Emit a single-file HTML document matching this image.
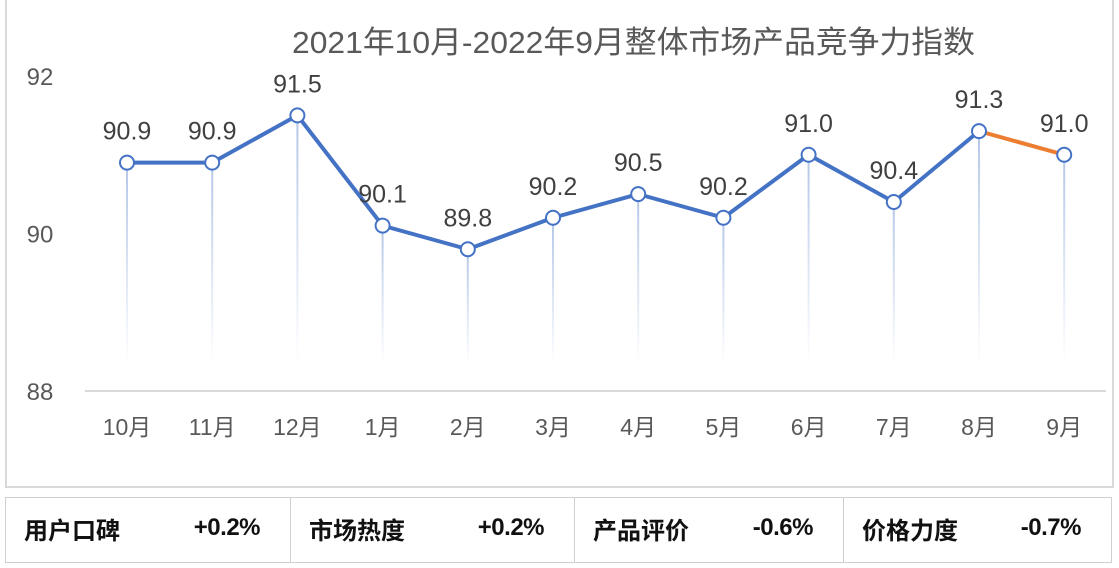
<!DOCTYPE html>
<html><head><meta charset="utf-8"><style>
body{margin:0;width:1119px;height:568px;background:#fff;overflow:hidden;font-family:"Liberation Sans","Noto Sans CJK SC",sans-serif;}
#chart{position:absolute;left:5px;top:0;width:1105px;height:486px;border:2px solid #d9d9d9;border-top:none;}
#tbl{position:absolute;left:5px;top:497px;width:1105px;height:64px;border:1px solid #cfcfcf;display:flex;}
.cell{flex:none;height:64px;border-right:1px solid #cfcfcf;display:flex;align-items:center;justify-content:space-between;padding:0 30px 4px 18px;box-sizing:border-box;font-size:24px;font-weight:bold;color:#111;}
.cell span:last-child{letter-spacing:-0.5px}
.cell:last-child{border-right:none}
</style></head><body>
<div id="chart"></div>
<svg id="svg" width="1119" height="490" style="position:absolute;left:0;top:0">
<defs><linearGradient id="dg" x1="0" y1="0" x2="0" y2="1"><stop offset="0" stop-color="#b4c7e7"/><stop offset="1" stop-color="#b4c7e7" stop-opacity="0"/></linearGradient></defs>
<text x="292" y="53" textLength="683" lengthAdjust="spacingAndGlyphs" font-size="31" fill="#595959">2021年10月-2022年9月整体市场产品竞争力指数</text>
</svg>
<div id="tbl">
<div class="cell" style="width:285px"><span>用户口碑</span><span>+0.2%</span></div>
<div class="cell" style="width:284px"><span>市场热度</span><span>+0.2%</span></div>
<div class="cell" style="width:269px"><span>产品评价</span><span>-0.6%</span></div>
<div class="cell" style="width:267px"><span>价格力度</span><span>-0.7%</span></div>
</div>
<script>
const categories=["10月","11月","12月","1月","2月","3月","4月","5月","6月","7月","8月","9月"];
const values=[90.9,90.9,91.5,90.1,89.8,90.2,90.5,90.2,91.0,90.4,91.3,91.0];
const yTicks=[88,90,92];
const svg=document.getElementById('svg');const NS='http://www.w3.org/2000/svg';
const x=i=>127+i*85.2;const y=v=>391-(v-88)*78.75;
function mk(t,a){const e=document.createElementNS(NS,t);for(const k in a)e.setAttribute(k,a[k]);svg.appendChild(e);return e;}
const ax=mk('line',{x1:85,x2:1106,y1:391,y2:391,stroke:'#d9d9d9','stroke-width':2});

yTicks.forEach(t=>{const e=mk('text',{x:40,y:y(t)+9,'text-anchor':'middle','font-size':24,fill:'#595959'});e.textContent=t;
});
categories.forEach((c,i)=>{const e=mk('text',{x:x(i),y:435,'text-anchor':'middle','font-size':23,fill:'#595959'});e.textContent=c;

const d=mk('rect',{x:x(i)-1,y:y(values[i]),width:2,height:365-y(values[i]),fill:'url(#dg)'});
});
const n=values.length;
let p=values.slice(0,n-1).map((v,i)=>x(i)+','+y(v)).join(' ');
const l1=mk('polyline',{points:p,fill:'none',stroke:'#4472c4','stroke-width':4,'stroke-linejoin':'round'});

const l2=mk('line',{x1:x(n-2),y1:y(values[n-2]),x2:x(n-1),y2:y(values[n-1]),stroke:'#ed7d31','stroke-width':4});

values.forEach((v,i)=>{const c=mk('circle',{cx:x(i),cy:y(v),r:7,fill:'#fff',stroke:'#4472c4','stroke-width':2});

const t=mk('text',{x:x(i),y:y(v)-23,'text-anchor':'middle','font-size':25,fill:'#404040'});t.textContent=v.toFixed(1);
});
</script>
</body></html>
